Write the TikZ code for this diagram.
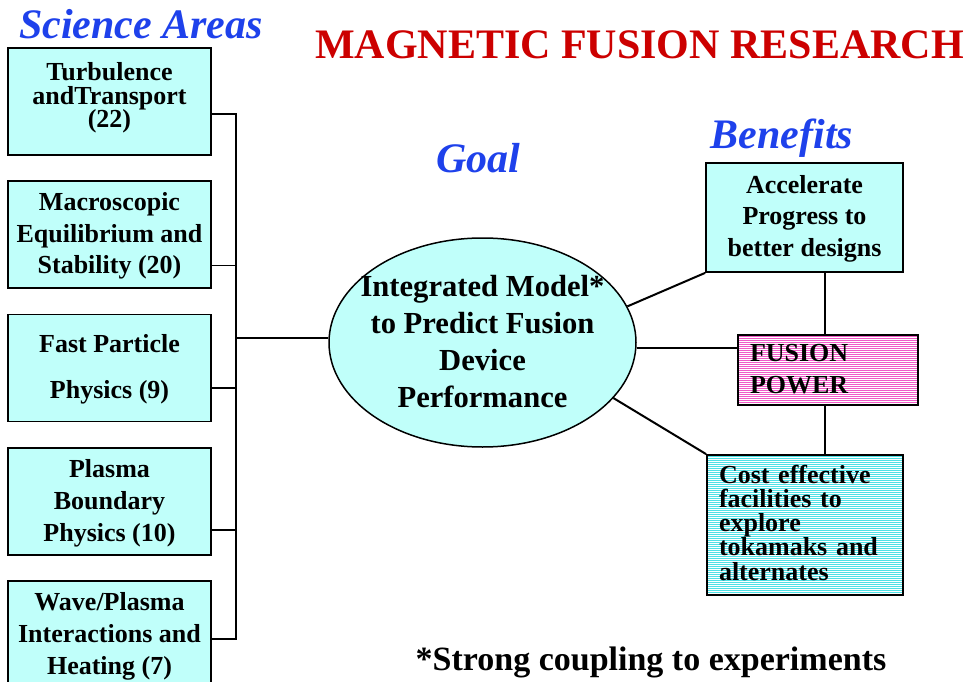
\documentclass[tikz,border=0pt]{standalone}
\usepackage{fontspec}
\setmainfont{Liberation Serif}
\usetikzlibrary{shapes.geometric}
\definecolor{boxcyan}{RGB}{192,255,250}
\definecolor{titlered}{RGB}{204,0,0}
\definecolor{headblue}{RGB}{30,65,235}
\definecolor{stripepink}{RGB}{240,90,200}
\definecolor{stripecyan}{RGB}{80,225,230}
\newcommand{\hs}{\rule[-6pt]{0pt}{27pt}}
\newcommand{\hsa}{\rule[-12.5pt]{0pt}{31pt}}
\newcommand{\hsc}{\rule[-6.6pt]{0pt}{26.6pt}}
\newcommand{\hse}{\rule[-6pt]{0pt}{30pt}}
\begin{document}
\begin{tikzpicture}[x=1pt,y=-1pt,
  areabox/.style={draw=black, line width=1.8pt, fill=boxcyan, rectangle, inner sep=0pt,
    minimum width=203pt, minimum height=107pt, align=center},
  benbox/.style={draw=black, line width=1.8pt, rectangle, inner ysep=0pt, inner xsep=12pt, align=left},
  conn/.style={line width=1.4pt, black},
  diag/.style={line width=2pt, black},
  head/.style={font={\bfseries\itshape\fontsize{42}{50}\selectfont}, text=headblue, inner sep=0pt, anchor=base},
  bx/.style={font={\bfseries\fontsize{26}{#1}\selectfont\lineskiplimit=-100pt}}
]
\useasboundingbox (0,0) rectangle (967,682);
% headings
\node[head] (sci) at (141,39) {Science Areas};
\node[font={\bfseries\fontsize{42}{50}\selectfont}, text=titlered, inner sep=0pt, anchor=base] (title) at (639.5,58.5) {MAGNETIC FUSION RESEARCH};
\node[head] (goal) at (478.5,172) {Goal};
\node[head] (ben) at (782,149) {Benefits};
\node[font={\bfseries\fontsize{34}{40}\selectfont}, inner sep=0pt, anchor=base] (note) at (651,670) {*Strong coupling to experiments};
% left science area boxes
\node[areabox, bx=23.5] (t1) at (109.5,101.5) {\hsa Turbulence\\\hsa andTransport\\\hsa (22)};
\node[areabox, bx=31.2] (t2) at (109.5,234.5) {\hs Macroscopic\\\hs Equilibrium and\\\hs Stability (20)};
\node[areabox, bx=46] (t3) at (109.5,368) {\hs Fast Particle\\\hs Physics (9)};
\node[areabox, bx=32] (t4) at (109.5,501.5) {\hs Plasma\\\hs Boundary\\\hs Physics (10)};
\node[areabox, bx=32] (t5) at (109.5,634.5) {\hs Wave/Plasma\\\hs Interactions and\\\hs Heating (7)};
% bracket
\coordinate (j1) at (236,114);
\coordinate (j2) at (236,265.5);
\coordinate (j3) at (236,388);
\coordinate (j4) at (236,530);
\coordinate (j5) at (236,639);
\coordinate (jm) at (236,338);
\draw[conn] (j1 -| t1.east) -- (j1) -- (j5) -- (j5 -| t5.east);
\draw[conn] (j2 -| t2.east) -- (j2);
\draw[conn] (j3 -| t3.east) -- (j3);
\draw[conn] (j4 -| t4.east) -- (j4);
% goal ellipse
\node[ellipse, draw=black, line width=1.5pt, fill=boxcyan, inner sep=0pt, minimum width=307pt, minimum height=209pt] (ell) at (482.5,342.5) {};
\node[align=center, inner sep=0pt, font={\bfseries\fontsize{30.6}{37}\selectfont\lineskiplimit=-100pt}] (goaltxt) at (ell.center) {\hse Integrated Model*\\\hse to Predict Fusion\\\hse Device\\\hse Performance};
\draw[conn] (jm) -- (jm -| ell.west);
% stripes
\foreach \yy in {336.5,338.5,...,404.5} \draw[stripepink, line width=1pt] (739,\yy) -- (917,\yy);
\foreach \yy in {456.5,458.5,...,594.5} \draw[stripecyan, line width=1pt] (708,\yy) -- (902,\yy);
% benefit boxes
\node[draw=black, line width=1.8pt, fill=boxcyan, rectangle, inner sep=0pt, minimum width=197pt, minimum height=109pt, align=center, bx=31.7] (acc) at (804.5,217.5) {\hs Accelerate\\\hs Progress to\\\hs better designs};
\node[benbox, text width=156pt, minimum height=70pt, bx=32] (fus) at (828,370) {\hs FUSION\\\hs POWER};
\node[benbox, text width=172pt, minimum height=140pt, bx=24.2] (cost) at (805,525) {\hsc Cost effective\\\hsc facilities to\\\hsc explore\\\hsc tokamaks and\\\hsc alternates};
% connectors
\coordinate (vx) at (825,0);
\coordinate (fj) at (738,348);
\draw[diag] (ell.14) -- (acc.south west);
\draw[diag] (ell.-23) -- (cost.north west);
\draw[conn] (fj -| ell.east) -- (fus.west |- fj);
\draw[conn] (vx |- acc.south) -- (vx |- fus.north);
\draw[conn] (vx |- fus.south) -- (vx |- cost.north);
\end{tikzpicture}
\end{document}
